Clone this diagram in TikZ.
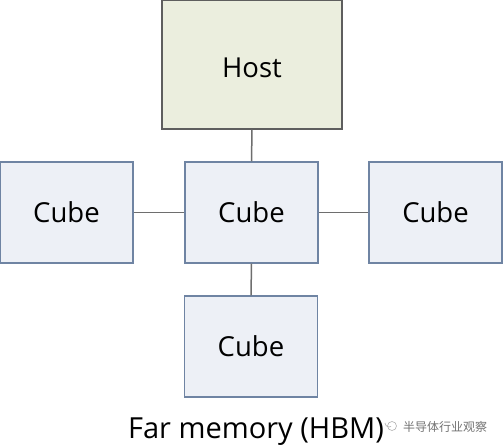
\documentclass[tikz,border=0pt]{standalone}
\usepackage{fontspec}
\setmainfont{Open Sans}
\newfontfamily\cjk{Noto Sans CJK SC}
\definecolor{cubefill}{HTML}{EDF0F6}
\definecolor{cubeline}{HTML}{6F84A3}
\definecolor{hostfill}{HTML}{EBEEDE}
\definecolor{hostline}{HTML}{5E5E5E}
\definecolor{wire}{HTML}{6E6E6E}
\tikzset{
  cubebox/.style={draw=cubeline, fill=cubefill, line width=1.1pt, minimum width=133pt, minimum height=101pt, inner sep=0pt, font=\fontsize{27.5}{30}\selectfont, text=black},
  hostbox/.style={draw=hostline, fill=hostfill, line width=1.5pt, minimum width=180pt, minimum height=129pt, inner sep=0pt, font=\fontsize{27.5}{30}\selectfont, text=black},
  wireline/.style={draw=wire, line width=1.5pt}
}
\begin{document}
\begin{tikzpicture}[x=1pt,y=-1pt]
\useasboundingbox (0,0) rectangle (503,446);
\fill[white] (0,0) rectangle (503,446);
\node[hostbox] (host) at (252,64.5) {};
\node[inner sep=0pt, font=\fontsize{27.5}{30}\selectfont, text=black] (hostlabel) at (252,67.5) {Host};
\node[cubebox] (center) at (251.5,212.5) {Cube};
\node[cubebox] (left) at (66.5,212.5) {Cube};
\node[cubebox] (right) at (435.5,212.5) {Cube};
\node[cubebox] (bottom) at (251,346.5) {Cube};
\draw[wireline] (host.south) -- (center.north);
\draw[wireline] (left.east) -- (center.west);
\draw[wireline] (center.east) -- (right.west);
\draw[wireline] (center.south) -- (bottom.north);
\node[anchor=base, inner sep=0pt, font=\fontsize{29}{32}\selectfont, text=black] (caption) at (256,438) {Far memory (HBM)};
\node[anchor=west, inner sep=0pt, font=\cjk\fontsize{12}{13}\selectfont, text=black!55] (mark) at (403,427) {半导体行业观察};
\draw[black!30, line width=0.6pt] (392,426) circle (4.5pt);
\draw[black!30, line width=0.6pt] (385,423) arc (180:300:4pt);
\end{tikzpicture}
\end{document}
